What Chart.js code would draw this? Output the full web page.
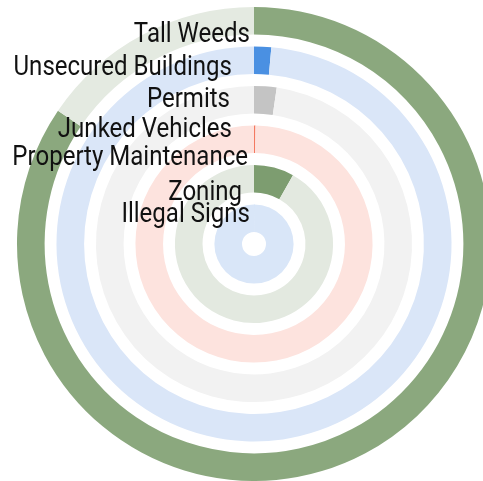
<!DOCTYPE html>
<html>
<head>
<meta charset="utf-8">
<script src="https://cdn.jsdelivr.net/npm/chart.js@4"></script>
<style>
  html, body { margin: 0; padding: 0; background: #fff; overflow: hidden; }
  #wrap { width: 508px; height: 481px; }
</style>
</head>
<body>
<div id="wrap"><canvas id="myChart" width="508" height="481"></canvas></div>
<script>
// outer ring first
const categories = ["Tall Weeds", "Unsecured Buildings", "Permits", "Junked Vehicles", "Property Maintenance", "Zoning", "Illegal Signs"];
// share of all cases, percent
const shares = [84.5, 1.4, 2.3, 0.2, 0, 8.2, 0.1];
const mainColors = ["#8ba87e", "#4a90e2", "#c4c4c4", "#f47a61", "#f47a61", "#7d9d70", "#4a90e2"];
const restColors = ["#e4eae1", "#dae6f8", "#f2f2f2", "#fde3de", "#fde3de", "#e3e9e0", "#d9e6f8"];

// where each label sits, relative to the centre (right edge, baseline)
const labelPos = [[4, 202], [22, 169], [24, 137], [22, 107], [6, 79], [12, 44], [4, 22]];

let datasets = [];
categories.forEach((name, i) => {
	let shown = shares[i] > 0;
	if (datasets.length > 0 && shown) {
		datasets.push({
			data: [1],
			backgroundColor: ["rgba(0,0,0,0)"],
			borderWidth: 0,
			weight: 0.43
		});
	}
	datasets.push({
		label: name,
		data: [shares[i], 100 - shares[i]],
		backgroundColor: [mainColors[i], restColors[i]],
		borderWidth: 0,
		weight: 1,
		hidden: !shown
	});
});

const labelPlugin = {
	id: "ringLabels",
	afterDraw(chart) {
		const ctx = chart.ctx;
		const area = chart.chartArea;
		const cx = (area.left + area.right) / 2;
		const cy = (area.top + area.bottom) / 2;
		const squeeze = 0.89; // narrow the face a little, like a condensed font
		ctx.save();
		ctx.fillStyle = "#111";
		ctx.font = "27px Roboto";
		ctx.textAlign = "right";
		ctx.textBaseline = "alphabetic";
		categories.forEach((name, i) => {
			ctx.save();
			ctx.translate(cx - labelPos[i][0], cy - labelPos[i][1]);
			ctx.scale(squeeze, 1);
			ctx.fillText(name, 0, 0);
			ctx.restore();
		});
		ctx.restore();
	}
};

new Chart(document.getElementById("myChart"), {
	type: "doughnut",
	data: { labels: ["value", "rest"], datasets: datasets },
	options: {
		responsive: false,
		animation: false,
		cutout: 12,
		layout: { padding: { left: 17, right: 17, top: 7, bottom: 0 } },
		plugins: {
			legend: { display: false },
			tooltip: { enabled: false }
		}
	},
	plugins: [labelPlugin]
});
</script>
</body>
</html>
